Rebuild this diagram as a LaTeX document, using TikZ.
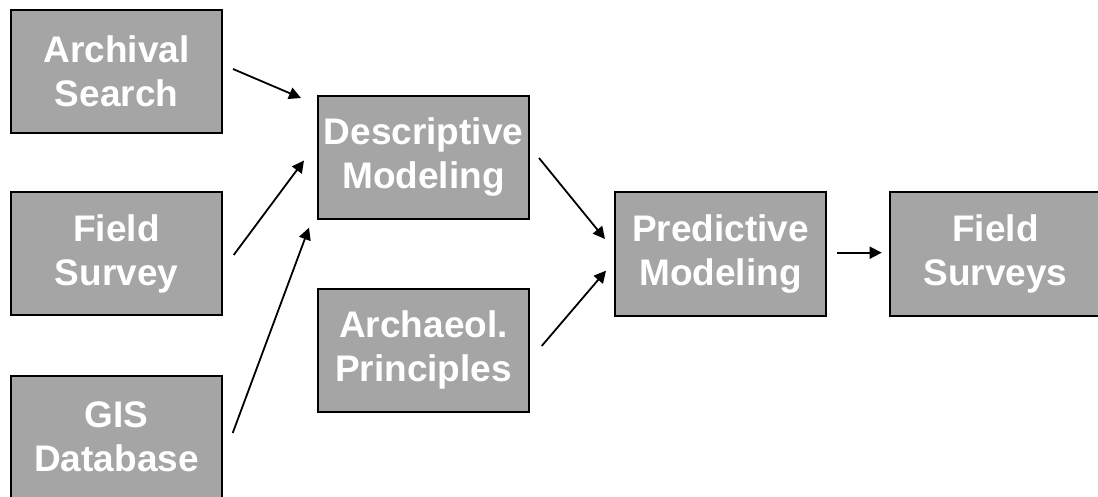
\documentclass[tikz,border=0pt]{standalone}
\usepackage{fontspec}
\setmainfont{Liberation Sans}
\usetikzlibrary{arrows.meta,positioning}

\definecolor{boxgray}{RGB}{165,165,165}

\tikzset{
	block/.style={draw=black, line width=2pt, fill=boxgray, minimum width=211pt, minimum height=123pt,
		inner sep=0pt, align=center, text=white, font=\fontsize{37}{44}\selectfont\bfseries},
	link/.style={-{Triangle[length=12pt,width=12pt]}, line width=1.8pt},
}

\begin{document}
\begin{tikzpicture}[x=1pt,y=-1pt]
		\useasboundingbox (0,0) rectangle (1098,497);
		\clip (0,0) rectangle (1098,497);

		% sources
		\draw (116.5,71.5) node[block] (arch) {Archival\\Search};
		\draw (116.5,253.5) node[block] (survey) {Field\\Survey};
		\draw (116.5,437) node[block] (gis) {GIS\\Database};

		% models
		\draw (423.5,157.5) node[block] (desc) {Descriptive\\Modeling};
		\draw (423.5,350) node[block] (princ) {Archaeol.\\Principles};
		\draw (720.5,254) node[block] (pred) {Predictive\\Modeling};
		\draw (995.5,254) node[block] (fsv) {Field\\Surveys};

		\path[link]
			([shift={(10,-2.5)}]arch.east)		edge ([shift={(-16,-59.5)}]desc.west)
			([shift={(10.7,1.5)}]survey.east)	edge ([shift={(-13,3)}]desc.west)
			([shift={(9.7,-4)}]gis.east)		edge ([shift={(-8,7.7)}]desc.south west)
			([shift={(9,0.5)}]desc.east)		edge ([shift={(-9,-15)}]pred.west)
			([shift={(11.7,-4)}]princ.east)		edge ([shift={(-8,16.7)}]pred.west)
			([shift={(10,-1.3)}]pred.east)		edge ([shift={(-7.3,-1.3)}]fsv.west)
			;
	\end{tikzpicture}
\end{document}
